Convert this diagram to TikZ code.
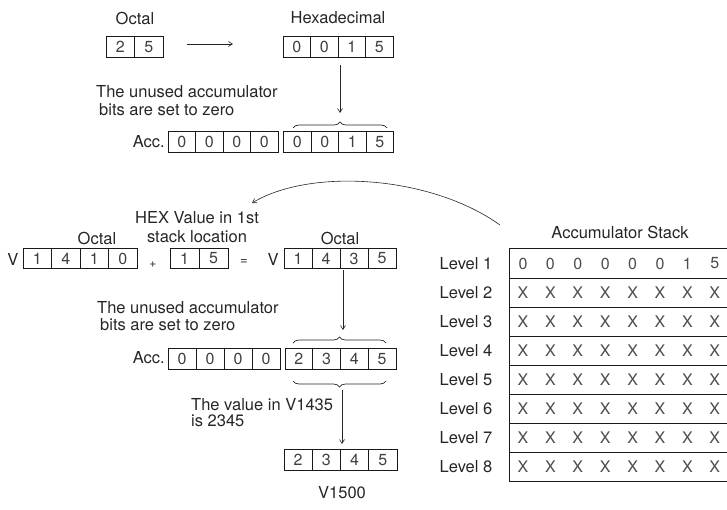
\documentclass[tikz,border=0pt]{standalone}
\usepackage{fontspec}
\setmainfont{TeX Gyre Heros}
\usetikzlibrary{arrows.meta,decorations.pathreplacing}
\begin{document}
\begin{tikzpicture}[x=1pt,y=-1pt,
  txt/.style={inner sep=0pt, text=black!85, font=\fontsize{16.5}{19}\selectfont},
  cellbox/.style={draw=black!90, line width=0.8pt, minimum height=20.5pt, inner sep=0pt, text=black!75, font=\fontsize{16}{19}\selectfont},
  arr/.style={line width=0.6pt, draw=black!85, -{Straight Barb[length=4pt,width=5pt]}},
  bracestyle/.style={line width=0.7pt, draw=black!85, decorate, decoration={brace, amplitude=6pt}},
  rowline/.style={line width=1pt, draw=black!90},
  digit/.style={inner sep=0pt, text=black!70, font=\fontsize{16}{19}\selectfont}
]
\useasboundingbox (0,0) rectangle (727,510);

% ---------- Top section ----------
\node[txt] (oct1) at (135,18) {Octal};
\node[cellbox, minimum width=28.5pt] (o1) at (120.25,47) {2};
\node[cellbox, minimum width=28.5pt] (o2) at (148.75,47) {5};
\node[txt] (hexlbl) at (338,18) {Hexadecimal};
\foreach \i/\d in {1/0,2/0,3/1,4/5}
  \node[cellbox, minimum width=27.5pt] (h\i) at ({283+27.5*(\i-0.5)},47) {\d};
\coordinate (a1s) at (187,44);
\coordinate (a1e) at (233,44);
\draw[arr] (a1s) -- (a1e);

\coordinate (d1s) at (340,65);
\coordinate (d1e) at (340,113);
\draw[arr] (d1s) -- (d1e);
\coordinate (b1l) at (293,128);
\coordinate (b1r) at (387,128);
\draw[bracestyle] (b1l) -- (b1r);

\node[txt, anchor=west] (un1a) at (96,92) {The unused accumulator};
\node[txt, anchor=west] (un1b) at (99,110) {bits are set to zero};
\node[txt, anchor=east] (acc1) at (165,142) {Acc.};
\foreach \i/\d in {1/0,2/0,3/0,4/0}
  \node[cellbox, minimum width=27.5pt] (ac\i) at ({168+27.5*(\i-0.5)},142) {\d};
\foreach \i/\d in {1/0,2/0,3/1,4/5}
  \node[cellbox, minimum width=27.5pt] (ad\i) at ({283.5+27.5*(\i-0.5)},142) {\d};

% ---------- Curved arrow ----------
\coordinate (cs) at (500,225);
\coordinate (ce) at (252,203);
\draw[arr] (cs) .. controls (430,175) and (310,168) .. (ce);

% ---------- Middle section ----------
\node[txt] (hexv1) at (197,218) {HEX Value in 1st};
\node[txt] (hexv2) at (197,237) {stack location};
\node[txt] (oct2) at (97,238) {Octal};
\node[txt] (oct3) at (340,238) {Octal};
\node[txt] (v1) at (13,259) {V};
\foreach \i/\d in {1/1,2/4,3/1,4/0}
  \node[cellbox, minimum width=28.5pt] (va\i) at ({23+28.5*(\i-0.5)},258.5) {\d};
\node[txt, font=\fontsize{12}{14}\selectfont] (plus) at (153,265) {+};
\node[cellbox, minimum width=29pt] (x1) at (184.5,258.5) {1};
\node[cellbox, minimum width=29pt] (x2) at (213.5,258.5) {5};
\node[txt, font=\fontsize{13}{15}\selectfont] (eq) at (244,262) {=};
\node[txt] (v2) at (273,259) {V};
\foreach \i/\d in {1/1,2/4,3/3,4/5}
  \node[cellbox, minimum width=28pt] (vb\i) at ({284+28*(\i-0.5)},258.5) {\d};

\coordinate (d2s) at (343,270);
\coordinate (d2e) at (343,330);
\draw[arr] (d2s) -- (d2e);
\coordinate (b2l) at (293,343);
\coordinate (b2r) at (386,343);
\draw[bracestyle] (b2l) -- (b2r);

\node[txt, anchor=west] (un2a) at (97,308) {The unused accumulator};
\node[txt, anchor=west] (un2b) at (100,325) {bits are set to zero};
\node[txt, anchor=east] (acc2) at (165,358) {Acc.};
\foreach \i/\d in {1/0,2/0,3/0,4/0}
  \node[cellbox, minimum width=28pt] (ae\i) at ({168+28*(\i-0.5)},359) {\d};
\foreach \i/\d in {1/2,2/3,3/4,4/5}
  \node[cellbox, minimum width=27.75pt] (af\i) at ({285+27.75*(\i-0.5)},359) {\d};
\coordinate (b3l) at (293,381);
\coordinate (b3r) at (386,381);
\draw[bracestyle] (b3r) -- (b3l);

\coordinate (d3s) at (342,390);
\coordinate (d3e) at (342,444);
\draw[arr] (d3s) -- (d3e);
\node[txt, anchor=west] (val1) at (191,405) {The value in V1435};
\node[txt, anchor=west] (val2) at (191,421) {is 2345};
\foreach \i/\d in {1/2,2/3,3/4,4/5}
  \node[cellbox, minimum width=28.25pt] (ag\i) at ({284+28.25*(\i-0.5)},460) {\d};
\node[txt] (v1500) at (342,493) {V1500};

% ---------- Accumulator stack ----------
\node[txt] (stk) at (620,232) {Accumulator Stack};
\foreach \k in {0,...,8}
  \draw[rowline] (509,{249+29*\k}) -- (728,{249+29*\k});
\draw[rowline] (509,249) -- (509,481);
\foreach \r in {1,...,8}
  \node[txt] (lvl\r) at (466,{249+29*(\r-0.5)}) {Level \r};
\foreach \c/\d in {1/0,2/0,3/0,4/0,5/0,6/0,7/1,8/5}
  \node[digit] (s1c\c) at ({523+27.4*(\c-1)},263.5) {\d};
\foreach \r in {2,...,8}
  \foreach \c in {1,...,8}
    \node[digit] (s\r c\c) at ({523+27.4*(\c-1)},{249+29*(\r-0.5)}) {X};
\end{tikzpicture}
\end{document}
